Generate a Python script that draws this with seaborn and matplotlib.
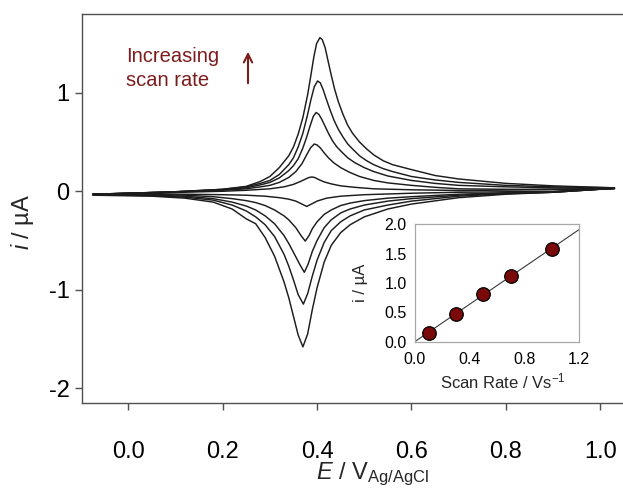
import numpy as np
import pandas as pd
import matplotlib
matplotlib.use("Agg")
import matplotlib.pyplot as plt
import seaborn as sns

# ---------------- data ----------------
scan_rates = [0.1, 0.3, 0.5, 0.7, 1.0]          # V/s
peak_currents = [0.16, 0.48, 0.81, 1.12, 1.58]  # uA (inset)

# forward (anodic) branches
E1f = [-0.075, 0.0, 0.1, 0.2, 0.25, 0.30, 0.33, 0.35, 0.365, 0.376, 0.383, 0.389, 0.395, 0.403, 0.415, 0.43, 0.45, 0.48, 0.52, 0.60, 0.70, 0.80, 0.90, 1.03]
i1f = [-0.03, -0.022, -0.012, 0.0, 0.01, 0.025, 0.045, 0.07, 0.10, 0.125, 0.14, 0.145, 0.14, 0.12, 0.095, 0.075, 0.055, 0.04, 0.025, 0.015, 0.008, 0.012, 0.02, 0.03]
E2f = [-0.075, 0.0, 0.1, 0.2, 0.25, 0.28, 0.30, 0.32, 0.34, 0.355, 0.368, 0.378, 0.386, 0.394, 0.40, 0.407, 0.415, 0.424, 0.435, 0.45, 0.47, 0.49, 0.52, 0.55, 0.60, 0.65, 0.70, 0.80, 0.90, 1.03]
i2f = [-0.03, -0.02, -0.008, 0.01, 0.025, 0.045, 0.06, 0.09, 0.14, 0.20, 0.28, 0.37, 0.44, 0.48, 0.47, 0.44, 0.39, 0.34, 0.29, 0.24, 0.19, 0.15, 0.11, 0.085, 0.06, 0.04, 0.025, 0.02, 0.02, 0.025]
E3f = [-0.075, 0.0, 0.1, 0.2, 0.25, 0.28, 0.30, 0.32, 0.34, 0.35, 0.36, 0.37, 0.378, 0.385, 0.392, 0.398, 0.404, 0.41, 0.417, 0.425, 0.433, 0.442, 0.452, 0.465, 0.48, 0.50, 0.52, 0.55, 0.60, 0.65, 0.70, 0.80, 0.90, 1.03]
i3f = [-0.03, -0.02, -0.005, 0.015, 0.035, 0.065, 0.09, 0.135, 0.21, 0.26, 0.33, 0.44, 0.55, 0.66, 0.76, 0.80, 0.78, 0.73, 0.66, 0.58, 0.51, 0.45, 0.40, 0.34, 0.29, 0.24, 0.20, 0.155, 0.11, 0.08, 0.06, 0.045, 0.035, 0.03]
E4f = [-0.075, 0.0, 0.1, 0.2, 0.25, 0.28, 0.30, 0.32, 0.34, 0.35, 0.36, 0.37, 0.38, 0.387, 0.394, 0.401, 0.407, 0.413, 0.42, 0.428, 0.436, 0.445, 0.455, 0.465, 0.475, 0.49, 0.505, 0.52, 0.54, 0.56, 0.60, 0.65, 0.70, 0.80, 0.90, 1.03]
i4f = [-0.03, -0.02, -0.005, 0.02, 0.045, 0.08, 0.11, 0.17, 0.27, 0.34, 0.45, 0.59, 0.78, 0.93, 1.06, 1.12, 1.10, 1.03, 0.93, 0.82, 0.72, 0.63, 0.55, 0.48, 0.43, 0.36, 0.31, 0.27, 0.23, 0.20, 0.15, 0.115, 0.09, 0.06, 0.045, 0.035]
E5f = [-0.075, 0.0, 0.1, 0.2, 0.25, 0.28, 0.30, 0.32, 0.34, 0.35, 0.36, 0.37, 0.38, 0.387, 0.393, 0.399, 0.406, 0.411, 0.417, 0.423, 0.43, 0.437, 0.445, 0.455, 0.465, 0.475, 0.49, 0.505, 0.52, 0.54, 0.56, 0.60, 0.65, 0.70, 0.80, 0.90, 1.03]
i5f = [-0.03, -0.02, -0.005, 0.02, 0.05, 0.10, 0.15, 0.24, 0.36, 0.45, 0.58, 0.75, 0.98, 1.18, 1.36, 1.50, 1.56, 1.54, 1.46, 1.33, 1.18, 1.04, 0.91, 0.78, 0.67, 0.59, 0.50, 0.43, 0.37, 0.31, 0.27, 0.22, 0.16, 0.125, 0.08, 0.055, 0.035]

# reverse (cathodic) branches
E1r = [1.03, 0.90, 0.80, 0.70, 0.60, 0.50, 0.45, 0.42, 0.40, 0.39, 0.378, 0.368, 0.355, 0.34, 0.32, 0.29, 0.25, 0.20, 0.12, 0.05, -0.075]
i1r = [0.03, 0.0, -0.005, -0.01, -0.02, -0.035, -0.05, -0.07, -0.10, -0.125, -0.154, -0.13, -0.10, -0.08, -0.065, -0.05, -0.04, -0.035, -0.03, -0.03, -0.03]
E2r = [1.03, 0.90, 0.80, 0.70, 0.60, 0.55, 0.50, 0.47, 0.45, 0.43, 0.415, 0.40, 0.39, 0.383, 0.375, 0.366, 0.355, 0.34, 0.33, 0.31, 0.29, 0.27, 0.25, 0.22, 0.18, 0.12, 0.05, -0.075]
i2r = [0.03, -0.005, -0.015, -0.03, -0.055, -0.07, -0.095, -0.12, -0.145, -0.19, -0.235, -0.31, -0.38, -0.45, -0.506, -0.45, -0.37, -0.29, -0.25, -0.19, -0.145, -0.115, -0.095, -0.075, -0.055, -0.04, -0.035, -0.03]
E3r = [1.03, 0.90, 0.80, 0.70, 0.60, 0.55, 0.50, 0.47, 0.45, 0.43, 0.415, 0.40, 0.39, 0.381, 0.373, 0.363, 0.35, 0.34, 0.33, 0.31, 0.29, 0.27, 0.25, 0.22, 0.18, 0.12, 0.05, -0.075]
i3r = [0.03, -0.01, -0.02, -0.04, -0.075, -0.10, -0.14, -0.18, -0.22, -0.29, -0.37, -0.50, -0.61, -0.74, -0.823, -0.74, -0.62, -0.53, -0.45, -0.33, -0.25, -0.19, -0.15, -0.11, -0.075, -0.05, -0.04, -0.035]
E4r = [1.03, 0.90, 0.80, 0.70, 0.60, 0.55, 0.50, 0.47, 0.45, 0.43, 0.415, 0.40, 0.39, 0.38, 0.371, 0.36, 0.35, 0.34, 0.33, 0.31, 0.29, 0.27, 0.25, 0.22, 0.18, 0.12, 0.05, -0.075]
i4r = [0.03, -0.01, -0.025, -0.05, -0.10, -0.14, -0.19, -0.25, -0.31, -0.40, -0.52, -0.70, -0.86, -1.04, -1.146, -1.05, -0.90, -0.76, -0.64, -0.46, -0.34, -0.26, -0.20, -0.14, -0.09, -0.06, -0.045, -0.035]
E5r = [1.03, 0.90, 0.80, 0.70, 0.60, 0.55, 0.50, 0.47, 0.45, 0.43, 0.415, 0.40, 0.39, 0.38, 0.37, 0.36, 0.35, 0.34, 0.33, 0.31, 0.29, 0.27, 0.25, 0.22, 0.18, 0.12, 0.05, -0.075]
i5r = [0.03, -0.01, -0.03, -0.065, -0.13, -0.18, -0.26, -0.34, -0.42, -0.55, -0.72, -0.98, -1.20, -1.45, -1.58, -1.46, -1.27, -1.08, -0.92, -0.66, -0.47, -0.33, -0.28, -0.18, -0.11, -0.07, -0.05, -0.04]

x_ticks = [0.0, 0.2, 0.4, 0.6, 0.8, 1.0]
y_ticks = [-2, -1, 0, 1]
inset_x_ticks = [0.0, 0.4, 0.8, 1.2]
inset_y_ticks = [0.0, 0.5, 1.0, 1.5, 2.0]

# ---------------- build table ----------------
branches = [(E1f, i1f, E1r, i1r), (E2f, i2f, E2r, i2r), (E3f, i3f, E3r, i3r),
            (E4f, i4f, E4r, i4r), (E5f, i5f, E5r, i5r)]
rows = []
for k, (ef, jf, er, jr) in enumerate(branches):
    E = list(ef) + list(er)
    I = list(jf) + list(jr)
    for n, (e, c) in enumerate(zip(E, I)):
        rows.append({"curve": k, "order": n, "E": e, "i": c})
cv = pd.DataFrame(rows)
inset_df = pd.DataFrame({"rate": scan_rates, "ip": peak_currents})

# ---------------- style ----------------
sns.set_style("ticks")
plt.rcParams["font.family"] = ["Liberation Sans", "DejaVu Sans"]
plt.rcParams["mathtext.fontset"] = "custom"
plt.rcParams["mathtext.rm"] = "Liberation Sans"
plt.rcParams["mathtext.it"] = "Liberation Sans:italic"

W, H = 623, 488
fig = plt.figure(figsize=(W / 100, H / 100), dpi=100)

def px_axes(l, t, r, b):
    return [l / W, 1 - b / H, (r - l) / W, (b - t) / H]

ax = fig.add_axes(px_axes(82, 14, 664, 403))
sns.lineplot(data=cv, x="E", y="i", units="curve", estimator=None, sort=False,
             color="#1c1c1c", lw=1.05, ax=ax)
ax.set_xlim(-0.098, 1.135)
ax.set_ylim(-2.15, 1.80)
ax.set_xticks(x_ticks)
ax.set_xticklabels([f"{v:.1f}" for v in x_ticks])
ax.set_yticks(y_ticks)
ax.set_yticklabels([str(v) for v in y_ticks])
ax.set_xlabel("")
ax.set_ylabel("")
spine_c = "#505050"
for s in ["left", "bottom", "top"]:
    ax.spines[s].set_color(spine_c)
    ax.spines[s].set_linewidth(1.0)
ax.spines["right"].set_visible(False)
ax.tick_params(axis="both", direction="out", length=5, width=1.0, color=spine_c,
               labelsize=17, labelcolor="black")
ax.tick_params(axis="x", pad=22)
ax.tick_params(axis="y", pad=4)

fig.text(373 / W, 1 - 474 / H, r"$\it{E}$ / V$_{\rm Ag/AgCl}$", fontsize=17,
         ha="center", va="center")
fig.text(23 / W, 1 - 222 / H, r"$\it{i}$ / µA", fontsize=17, rotation=90,
         ha="center", va="center")

red = "#7d1c1c"
fig.text(126 / W, 1 - 62.5 / H, "Increasing", fontsize=14.5, color=red, va="baseline")
fig.text(126 / W, 1 - 86.5 / H, "scan rate", fontsize=14.5, color=red, va="baseline")
fig.add_artist(matplotlib.patches.FancyArrowPatch(
    (248 / W, 1 - 86 / H), (248 / W, 1 - 49 / H), transform=fig.transFigure,
    arrowstyle="->,head_length=6,head_width=3", color=red, lw=1.5))

# ---------------- inset ----------------
ins = fig.add_axes(px_axes(415, 224, 579, 342))
slope, icpt = np.polyfit(scan_rates, peak_currents, 1)
fit_x = [0.0, 1.2]
fit_df = pd.DataFrame({"rate": fit_x, "ip": [icpt + slope * v for v in fit_x]})
sns.lineplot(data=fit_df, x="rate", y="ip", color="#3a3a3a", lw=0.8, ax=ins)
sns.scatterplot(data=inset_df, x="rate", y="ip", s=95, color="#7a0a0a",
                edgecolor="black", linewidth=0.9, zorder=3, ax=ins)
ins.set_xlim(0, 1.2)
ins.set_ylim(0, 2.0)
ins.set_xticks(inset_x_ticks)
ins.set_xticklabels([f"{v:.1f}" for v in inset_x_ticks])
ins.set_yticks(inset_y_ticks)
ins.set_yticklabels([f"{v:.1f}" for v in inset_y_ticks])
ins.set_xlabel("")
ins.set_ylabel("")
for s in ins.spines.values():
    s.set_color("#a8a8a8")
    s.set_linewidth(0.9)
ins.tick_params(axis="both", length=0, labelsize=11.5, labelcolor="black")
ins.tick_params(axis="x", pad=7)
ins.tick_params(axis="y", pad=6)
fig.text(503 / W, 1 - 381 / H, r"Scan Rate / Vs$^{-1}$", fontsize=12,
         ha="center", va="center")
fig.text(360 / W, 1 - 283 / H, "i / µA", fontsize=12, rotation=90,
         ha="center", va="center")

fig.savefig("out.png", dpi=100)
